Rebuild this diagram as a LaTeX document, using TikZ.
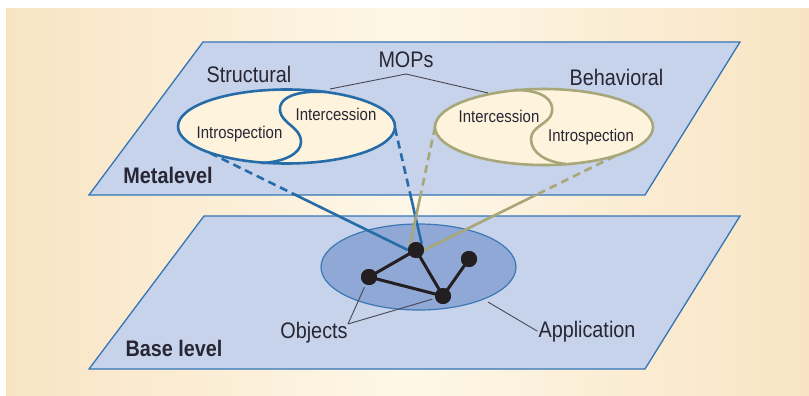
\documentclass[tikz,border=0pt]{standalone}
\usepackage{fontspec}
\setmainfont{Liberation Sans}[FakeStretch=0.88]
\usetikzlibrary{calc}
\definecolor{bgbeige}{RGB}{248,228,195}
\definecolor{bgmid}{RGB}{254,247,232}
\definecolor{planefill}{RGB}{198,211,234}
\definecolor{planeline}{RGB}{52,116,182}
\definecolor{appfill}{RGB}{143,168,214}
\definecolor{appline}{RGB}{60,120,181}
\definecolor{structblue}{RGB}{38,108,168}
\definecolor{olivec}{RGB}{168,167,122}
\definecolor{cream}{RGB}{254,243,220}
\definecolor{ink}{RGB}{35,31,32}
\definecolor{txt}{RGB}{40,38,52}
\tikzset{
  plane/.style={fill=planefill, draw=planeline, line width=1.3pt, line join=miter},
  appell/.style={fill=appfill, draw=appline, line width=1.2pt},
  objnode/.style={circle, fill=ink, inner sep=0pt, minimum size=16pt},
  graphedge/.style={draw=ink, line width=3pt},
  blueconn/.style={draw=structblue, line width=2.6pt},
  oliveconn/.style={draw=olivec, line width=2.6pt},
  dashpat/.style={dash pattern=on 8pt off 5pt},
  structell/.style={fill=cream, draw=structblue, line width=2.6pt},
  behavell/.style={fill=cream, draw=olivec, line width=2.6pt},
  leader/.style={draw=txt!85, line width=0.9pt},
  lab/.style={text=txt, inner sep=1pt, font=\fontsize{22.5}{27}\selectfont},
  slab/.style={text=txt, inner sep=1pt, font=\fontsize{17}{20}\selectfont},
  blab/.style={text=txt, inner sep=1pt, font=\fontsize{22.5}{27}\selectfont\bfseries},
}
\begin{document}
\begin{tikzpicture}[x=1pt,y=-1pt]
\useasboundingbox (0,0) rectangle (809,396);
\shade[left color=bgbeige, right color=bgbeige, middle color=bgmid] (6,9) rectangle (809,396);

% planes
\draw[plane] (203,42) -- (740,42) -- (645,195) -- (89,195) -- cycle;
\draw[plane] (204,216) -- (740,216) -- (645,369) -- (89,369) -- cycle;

% application ellipse
\draw[appell] (418.5,267) ellipse [x radius=97.5, y radius=43];

% objects
\node[objnode] (A) at (416,250) {};
\node[objnode] (B) at (369,277) {};
\node[objnode] (C) at (443,296) {};
\node[objnode] (D) at (469,259) {};

% connector start points on the metalevel ellipses
\coordinate (s1) at (210,153);
\coordinate (s2) at (395,128);
\coordinate (b1) at (435,127);
\coordinate (b2) at (615,156);

% solid parts of connectors (outside metalevel plane)
\begin{scope}
\clip (0,195) rectangle (809,396);
\draw[blueconn] (s1) -- (A.west);
\draw[blueconn] (s2) -- (A.north east);
\draw[oliveconn] (b1) -- (A.north west);
\draw[oliveconn] (b2) -- (A.east);
\end{scope}

% graph edges
\draw[graphedge] (A.center) -- (B.center);
\draw[graphedge] (A.center) -- (C.center);
\draw[graphedge] (B.center) -- (C.center);
\draw[graphedge] (C.center) -- (D.center);
\node[objnode] at (A) {};
\node[objnode] at (B) {};
\node[objnode] at (C) {};
\node[objnode] at (D) {};

% dashed parts of connectors (within metalevel plane)
\begin{scope}
\clip (0,0) rectangle (809,195);
\draw[blueconn, dashpat] (s1) -- (A.west);
\draw[blueconn, dashpat] (s2) -- (A.north east);
\draw[oliveconn, dashpat] (b1) -- (A.north west);
\draw[oliveconn, dashpat] (b2) -- (A.east);
\end{scope}

% structural ellipse
\draw[structell] (286.5,126.5) ellipse [x radius=108.5, y radius=37];
\draw[structblue, line width=2.6pt] (326,92) .. controls (296,90) and (278,98) .. (280,111)
  .. controls (282,124) and (301,127) .. (301,142)
  .. controls (301,154) and (283,162) .. (262,163);

% behavioral ellipse
\draw[behavell] (544,127) ellipse [x radius=109, y radius=38];
\draw[olivec, line width=2.6pt] (515,90) .. controls (543,90) and (554,100) .. (552,112)
  .. controls (550,124) and (531,126) .. (531,139)
  .. controls (531,153) and (546,162) .. (566,164);

% labels
\node[lab, anchor=base] (structural) at (249,82) {Structural};
\node[lab, anchor=base] (mops) at (406,67) {MOPs};
\node[lab, anchor=base] (behavioral) at (616.5,85) {Behavioral};
\node[blab, anchor=base] (meta) at (168,183) {Metalevel};
\node[blab, anchor=base] (baselev) at (174,356) {Base level};
\node[lab, anchor=base] (objects) at (314,338) {Objects};
\node[lab, anchor=base] (appl) at (587,337) {Application};
\node[slab, anchor=base] (sinter) at (336,121) {Intercession};
\node[slab, anchor=base] (sintro) at (239.5,139) {Introspection};
\node[slab, anchor=base] (binter) at (499,122) {Intercession};
\node[slab, anchor=base] (bintro) at (591,141) {Introspection};

% MOPs leaders
\coordinate (m1) at (330,89);
\coordinate (m2) at (406,74);
\coordinate (m3) at (488,93);
\draw[leader] (m1) -- (m2) -- (m3);

% Objects leaders
\coordinate (objtip) at (348,324);
\draw[leader, shorten >=3pt] (objtip) -- (B);
\draw[leader, shorten >=3pt] (objtip) -- (C);

% Application leader
\coordinate (appstart) at (488,302);
\draw[leader] (appstart) -- (appl.west);
\end{tikzpicture}
\end{document}
